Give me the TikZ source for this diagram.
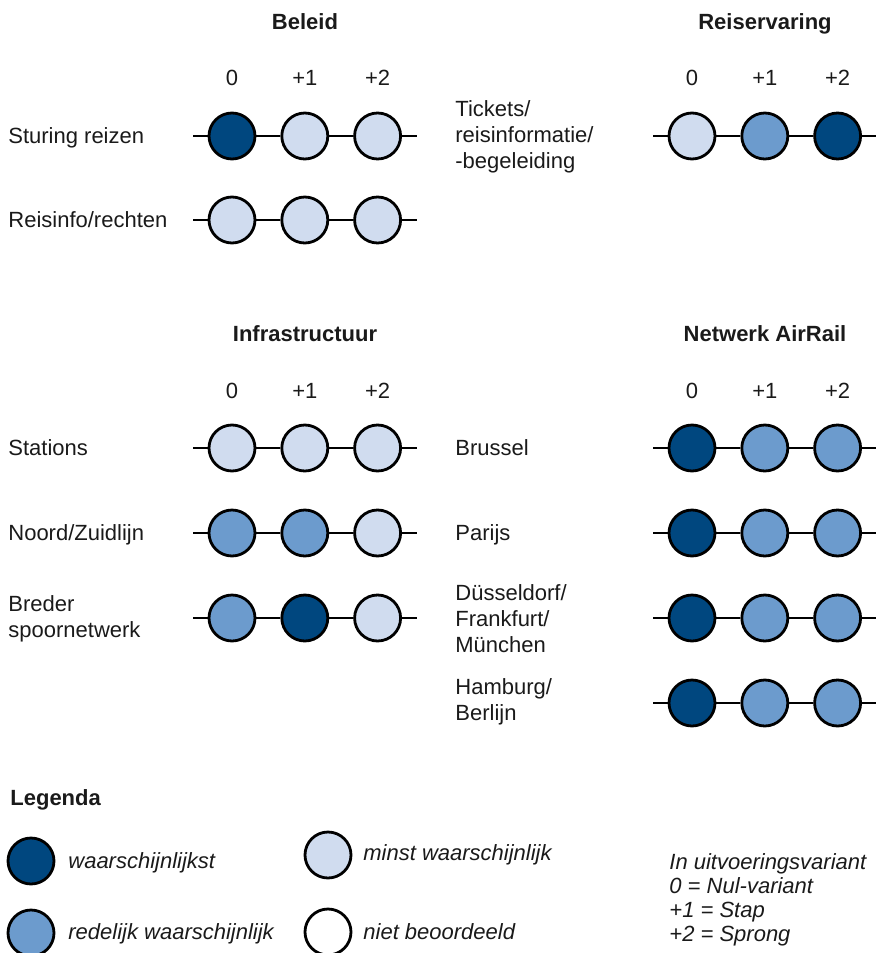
\documentclass[tikz,border=0pt]{standalone}
\usepackage{fontspec}
\setmainfont{Liberation Sans}
\definecolor{cdark}{RGB}{0,71,127}
\definecolor{cmid}{RGB}{108,155,205}
\definecolor{clight}{RGB}{208,220,239}
\definecolor{ink}{RGB}{26,26,26}

% one row of three scored variants (0, +1, +2) on a line
% #1 prefix, #2 x of first dot, #3 y, #4-#6 dot styles
\newcommand\dotrow[6]{%
  \node[#4] (#1a) at (#2,#3) {};
  \node[#5] (#1b) at (#2+72.8,#3) {};
  \node[#6] (#1c) at (#2+145.6,#3) {};
  \coordinate (#1l) at (#2-39,#3);
  \coordinate (#1r) at (#2+185,#3);
  \draw[link] (#1l) -- (#1a) (#1a) -- (#1b) (#1b) -- (#1c) (#1c) -- (#1r);
}

\begin{document}
\begin{tikzpicture}[x=0.5pt,y=-0.5pt,
  every node/.style={text=ink},
  dot/.style={circle, draw=black, line width=1.4pt, minimum size=23pt, inner sep=0pt},
  hi/.style={dot, fill=cdark},
  md/.style={dot, fill=cmid},
  lo/.style={dot, fill=clight},
  nb/.style={dot, fill=white},
  link/.style={draw=black, line width=1.4pt},
  txt/.style={inner sep=0pt, font=\fontsize{11}{13}\selectfont},
  lbl/.style={txt, anchor=base west},
  multi/.style={txt, anchor=west, align=left},
  head/.style={txt, anchor=base, font=\fontsize{11}{13}\selectfont\bfseries},
  col/.style={txt, anchor=base},
  leg/.style={txt, anchor=base west, font=\fontsize{11}{12}\selectfont\itshape},
]
\useasboundingbox (0,0) rectangle (876,953);

% ---- Beleid ----
\node[head] (hBel) at (305,29) {Beleid};
\node[col] (bc0) at (232,85) {0};
\node[col] (bc1) at (304.8,85) {+1};
\node[col] (bc2) at (377.6,85) {+2};
\node[lbl] (tSt) at (8,143) {Sturing reizen};
\dotrow{st}{232}{136}{hi}{lo}{lo}
\node[lbl] (tRi) at (8,227) {Reisinfo/rechten};
\dotrow{ri}{232}{220}{lo}{lo}{lo}

% ---- Reiservaring ----
\node[head] (hRe) at (765,29) {Reiservaring};
\node[col] (rc0) at (692,85) {0};
\node[col] (rc1) at (764.8,85) {+1};
\node[col] (rc2) at (837.6,85) {+2};
\node[multi] (tTi) at (455,137) {Tickets/\\reisinformatie/\\-begeleiding};
\dotrow{ti}{692}{136}{lo}{md}{hi}

% ---- Infrastructuur ----
\node[head] (hIn) at (305,341) {Infrastructuur};
\node[col] (ic0) at (232,398) {0};
\node[col] (ic1) at (304.8,398) {+1};
\node[col] (ic2) at (377.6,398) {+2};
\node[lbl] (tSa) at (8,455) {Stations};
\dotrow{sa}{232}{448}{lo}{lo}{lo}
\node[lbl] (tNz) at (8,540) {Noord/Zuidlijn};
\dotrow{nz}{232}{533}{md}{md}{lo}
\node[multi] (tBr) at (8,619) {Breder\\spoornetwerk};
\dotrow{br}{232}{618}{md}{hi}{lo}

% ---- Netwerk AirRail ----
\node[head] (hNe) at (765,341) {Netwerk AirRail};
\node[col] (nc0) at (692,398) {0};
\node[col] (nc1) at (764.8,398) {+1};
\node[col] (nc2) at (837.6,398) {+2};
\node[lbl] (tBu) at (455,455) {Brussel};
\dotrow{bu}{692}{448}{hi}{md}{md}
\node[lbl] (tPa) at (455,540) {Parijs};
\dotrow{pa}{692}{533}{hi}{md}{md}
\node[multi] (tDu) at (455,619) {Düsseldorf/\\Frankfurt/\\München};
\dotrow{du}{692}{618}{hi}{md}{md}
\node[multi] (tHa) at (455,702) {Hamburg/\\Berlijn};
\dotrow{ha}{692}{703}{hi}{md}{md}

% ---- Legenda ----
\node[txt, anchor=base west, font=\fontsize{11}{13}\selectfont\bfseries] (hLe) at (10,805) {Legenda};
\node[hi] (l1) at (31,861) {};
\node[leg] (l1t) at (68,868) {waarschijnlijkst};
\node[md] (l2) at (31,933) {};
\node[leg] (l2t) at (68,939) {redelijk waarschijnlijk};
\node[lo] (l3) at (328,855) {};
\node[leg] (l3t) at (363,860) {minst waarschijnlijk};
\node[nb] (l4) at (328,932) {};
\node[leg] (l4t) at (363,939) {niet beoordeeld};
\node[txt, anchor=north west, align=left, font=\fontsize{11}{12}\selectfont\itshape] (lv) at (669,853)
  {In uitvoeringsvariant\\0 = Nul-variant\\+1 = Stap\\+2 = Sprong};
\end{tikzpicture}
\end{document}
